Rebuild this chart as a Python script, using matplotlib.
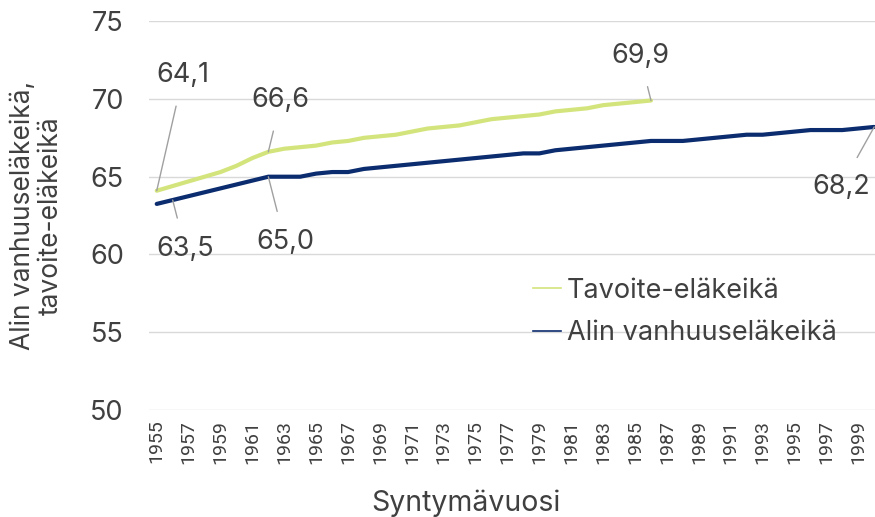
import matplotlib
matplotlib.use('Agg')
from matplotlib import pyplot as plt
from matplotlib.lines import Line2D
import numpy as np

plt.rcParams['font.family'] = ['Inter', 'DejaVu Sans']

years = list(range(1955, 2001))
target_years = list(range(1955, 1987))
target_age = [64.1, 64.4, 64.7, 65.0, 65.3, 65.7, 66.2, 66.6, 66.8, 66.9,
              67.0, 67.2, 67.3, 67.5, 67.6, 67.7, 67.9, 68.1, 68.2, 68.3,
              68.5, 68.7, 68.8, 68.9, 69.0, 69.2, 69.3, 69.4, 69.6, 69.7,
              69.8, 69.9]
min_age = [63.25, 63.5, 63.75, 64.0, 64.25, 64.5, 64.75, 65.0, 65.0, 65.0,
           65.2, 65.3, 65.3, 65.5, 65.6, 65.7, 65.8, 65.9, 66.0, 66.1,
           66.2, 66.3, 66.4, 66.5, 66.5, 66.7, 66.8, 66.9, 67.0, 67.1,
           67.2, 67.3, 67.3, 67.3, 67.4, 67.5, 67.6, 67.7, 67.7, 67.8,
           67.9, 68.0, 68.0, 68.0, 68.1, 68.2]
tick_years = list(range(1955, 2000, 2))

green = '#d4e47c'
navy = '#0b2c6e'
txt = '#404040'

fig = plt.figure(figsize=(8.75, 5.17), dpi=100)
ax = fig.add_axes([0.170, 0.207, 0.830, 0.752])

ax.plot(target_years, target_age, color=green, lw=3, solid_capstyle='round', zorder=3)
ax.plot(years, min_age, color=navy, lw=3, solid_capstyle='round', zorder=3)

ax.set_xlim(1954.5, 2000.05)
ax.set_ylim(50, 75)
ax.set_yticks(range(50, 76, 5))
ax.set_xticks(tick_years)
ax.set_xticklabels([str(y) for y in tick_years], rotation=90, fontsize=14, color=txt,
                   family=['Roboto', 'DejaVu Sans'])
ax.tick_params(axis='y', labelsize=19.5, labelcolor=txt, length=0, pad=18)
ax.tick_params(axis='x', length=0, pad=7)
ax.grid(axis='y', color='#d9d9d9', lw=1)
ax.set_axisbelow(True)
for s in ax.spines.values():
    s.set_visible(False)

ax.set_xlabel('Syntymävuosi', fontsize=20.5, color=txt)
ax.xaxis.set_label_coords(0.437, -0.205)
ax.set_ylabel('Alin vanhuuseläkeikä,\ntavoite-eläkeikä', fontsize=19, color=txt,
              linespacing=1.1)
ax.yaxis.set_label_coords(-0.117, 0.5)

# data labels with leader lines
def label(x, y, dx, dy):
    ax.annotate(f'{y:.1f}'.replace('.', ','), (x, y), xytext=(dx, dy),
                textcoords='offset points', ha='center', va='center',
                fontsize=19.5, color=txt,
                arrowprops=dict(arrowstyle='-', color='#a0a0a0', lw=1,
                                shrinkA=11, shrinkB=0))

ti = target_years.index
mi = years.index
label(1955, target_age[ti(1955)], 19, 83)
label(1962, target_age[ti(1962)], 9, 37)
label(1986, target_age[ti(1986)], -8, 32)
label(1956, min_age[mi(1956)], 9, -35)
label(1962, min_age[mi(1962)], 12, -47)
label(2000, min_age[mi(2000)], -24, -43)

handles = [Line2D([], [], color=green, lw=1.2), Line2D([], [], color=navy, lw=1.2)]
leg = ax.legend(handles, ['Tavoite-eläkeikä', 'Alin vanhuuseläkeikä'],
                loc='upper left', bbox_to_anchor=(0.495, 0.403), frameon=False,
                fontsize=19.5, handlelength=1.05, handletextpad=0.22,
                labelspacing=0.62, labelcolor=txt)

fig.savefig('out.png', dpi=100)
